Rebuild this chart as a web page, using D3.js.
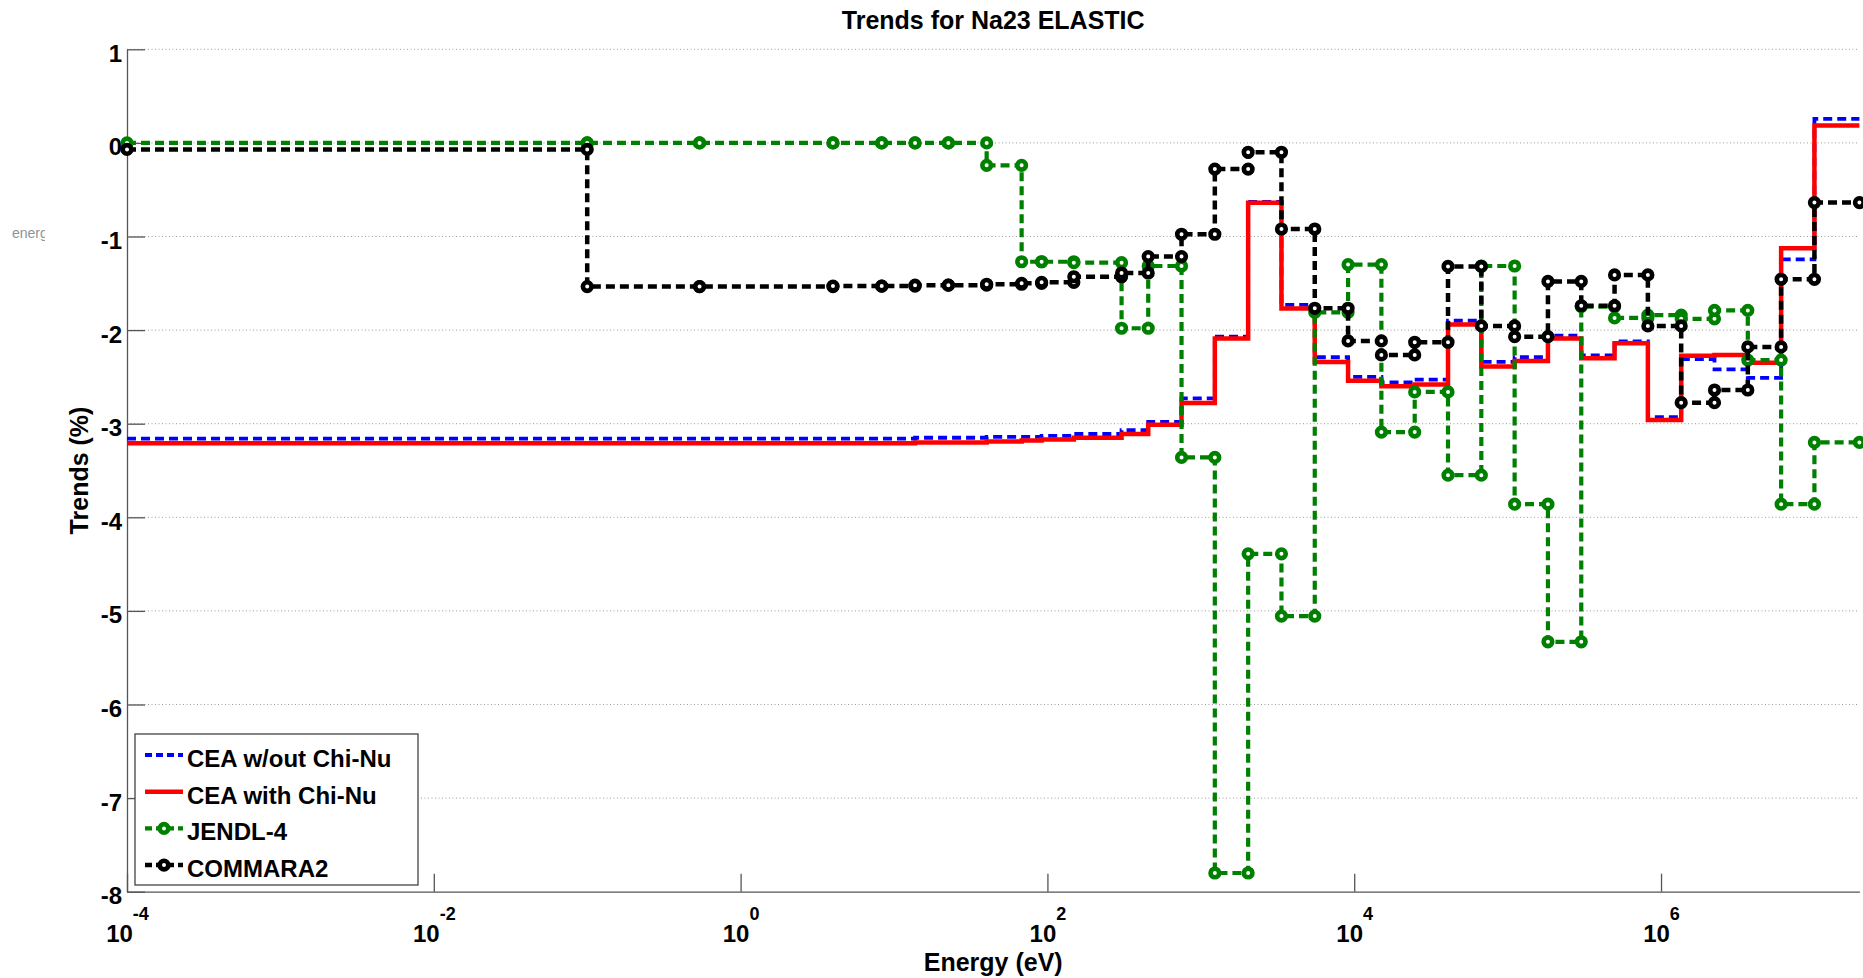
<!DOCTYPE html>
<html>
<head>
<meta charset="utf-8">
<style>
  body { margin: 0; background: #fff; }
  svg { display: block; font-family: "Liberation Sans", Arial, sans-serif; }
  .axis path, .axis line { stroke: #555; stroke-width: 1.3; }
  .axis text { font-size: 24px; font-weight: bold; fill: #000; }
  .grid line { stroke: #9a9a9a; stroke-width: 1; stroke-dasharray: 1,2.5; }
</style>
</head>
<body>
<div id="chart"></div>
<script src="https://d3js.org/d3.v7.min.js"></script>
<script>

// ECCO 33-group boundaries (eV), ascending; first one is the axis start
const groupBounds = [1e-4, 0.1, 0.54, 4.0, 8.3153, 13.710, 22.603, 40.169, 67.904,
  91.661, 148.63, 304.32, 454.00, 748.52, 1234.1, 2034.7, 3354.6, 5530.8, 9118.8,
  15034, 24788, 40868, 67379, 111090, 183160, 301970, 497870, 820850, 1353400,
  2231300, 3678800, 6065300, 1.0e7, 1.964e7];

// trend values (%) per group, lowest energy group first
const ceaNoChiNu = [-3.16, -3.16, -3.16, -3.16, -3.16, -3.15, -3.15, -3.14, -3.14,
  -3.13, -3.11, -3.07, -2.98, -2.73, -2.07, -0.63, -1.73, -2.29, -2.50, -2.56,
  -2.53, -1.90, -2.34, -2.29, -2.06, -2.27, -2.12, -2.93, -2.31, -2.42, -2.51,
  -1.245, 0.256];
const ceaChiNu = [-3.21, -3.21, -3.21, -3.21, -3.21, -3.20, -3.20, -3.19, -3.18,
  -3.17, -3.15, -3.11, -3.01, -2.78, -2.09, -0.64, -1.77, -2.34, -2.54, -2.60,
  -2.58, -1.94, -2.39, -2.33, -2.09, -2.30, -2.14, -2.96, -2.275, -2.265, -2.35,
  -1.125, 0.185];
const jendl4 = [0, 0, 0, 0, 0, 0, 0, -0.24, -1.27, -1.27, -1.28, -1.98, -1.315,
  -3.36, -7.80, -4.39, -5.055, -1.81, -1.30, -3.09, -2.66, -3.55, -1.315, -3.86,
  -5.33, -1.75, -1.87, -1.84, -1.88, -1.79, -2.32, -3.86, -3.20];
const commara2 = [-0.07, -1.535, -1.535, -1.53, -1.53, -1.52, -1.52, -1.51, -1.50,
  -1.49, -1.43, -1.39, -1.215, -0.976, -0.28, -0.10, -0.92, -1.767, -2.116,
  -2.265, -2.13, -1.32, -1.955, -2.07, -1.48, -1.74, -1.41, -1.955, -2.775,
  -2.64, -2.18, -1.457, -0.638];

const seriesNames = ["CEA w/out Chi-Nu", "CEA with Chi-Nu", "JENDL-4", "COMMARA2"];
const xTickExps = [-4, -2, 0, 2, 4, 6];
const yTicks = [1, 0, -1, -2, -3, -4, -5, -6, -7, -8];

const W = 1863, H = 978;
const plotLeft = 127, plotRight = 1859.4, plotTop = 49.3, plotBottom = 891.7;

const svg = d3.select("#chart").append("svg")
  .attr("width", W).attr("height", H);

const x = d3.scaleLog()
  .domain([1e-4, 1.964e7])
  .range([plotLeft, plotRight]);

const y = d3.scaleLinear()
  .domain([-8, 1])
  .range([plotBottom, plotTop]);

// dotted horizontal grid
svg.append("g").attr("class", "grid")
  .selectAll("line")
  .data(yTicks.filter(d => d > -8))
  .enter().append("line")
    .attr("x1", plotLeft).attr("x2", plotRight)
    .attr("y1", d => y(d)).attr("y2", d => y(d));

// y axis, ticks pointing inward (plain hyphen minus like the original)
const yAxis = svg.append("g").attr("class", "axis")
  .attr("transform", "translate(" + plotLeft + ",0)")
  .call(d3.axisLeft(y).tickValues(yTicks).tickSize(-18).tickSizeOuter(0)
    .tickPadding(5).tickFormat(d => String(d)));
yAxis.selectAll("text").attr("dy", "12px");

// x axis with 10^n labels
const xAxis = svg.append("g").attr("class", "axis")
  .attr("transform", "translate(0," + plotBottom + ")")
  .call(d3.axisBottom(x).tickValues(xTickExps.map(e => Math.pow(10, e)))
    .tickSize(-18).tickSizeOuter(0).tickFormat(""));
xAxis.selectAll(".tick").each(function(d) {
  const t = d3.select(this).append("text")
    .attr("y", 50)
    .attr("text-anchor", "middle");
  t.append("tspan").text("10");
  t.append("tspan")
    .attr("dy", -22)
    .style("font-size", "18px")
    .text(String(Math.round(Math.log10(d))));
});

// step lines
function stepPoints(vals) {
  const pts = [];
  vals.forEach((v, i) => {
    pts.push([groupBounds[i], v]);
    pts.push([groupBounds[i + 1], v]);
  });
  return pts;
}

const line = d3.line().x(d => x(d[0])).y(d => y(d[1]));

const series = [
  { name: seriesNames[0], vals: ceaNoChiNu, color: "#0000ff", width: 3.8, dash: "9,5", marker: false },
  { name: seriesNames[1], vals: ceaChiNu, color: "#ff0000", width: 4.5, dash: null, marker: false },
  { name: seriesNames[2], vals: jendl4, color: "#008000", width: 4.2, dash: "9,5", marker: true },
  { name: seriesNames[3], vals: commara2, color: "#000000", width: 4.5, dash: "9,5", marker: true }
];

series.forEach(s => {
  const pts = stepPoints(s.vals);
  svg.append("path")
    .datum(pts)
    .attr("d", line)
    .attr("fill", "none")
    .attr("stroke", s.color)
    .attr("stroke-width", s.width)
    .attr("stroke-dasharray", s.dash);
  if (s.marker) {
    svg.append("g").selectAll("circle")
      .data(pts)
      .enter().append("circle")
        .attr("cx", d => x(d[0]))
        .attr("cy", d => y(d[1]))
        .attr("r", 4.3)
        .attr("fill", "#fff")
        .attr("stroke", s.color)
        .attr("stroke-width", 4.6);
  }
});

// title and axis labels
svg.append("text")
  .attr("x", (plotLeft + plotRight) / 2).attr("y", 29)
  .attr("text-anchor", "middle")
  .style("font-size", "25px").style("font-weight", "bold")
  .text("Trends for Na23 ELASTIC");

svg.append("text")
  .attr("x", (plotLeft + plotRight) / 2).attr("y", 971)
  .attr("text-anchor", "middle")
  .style("font-size", "25px").style("font-weight", "bold")
  .text("Energy (eV)");

svg.append("text")
  .attr("transform", "translate(88," + ((plotTop + plotBottom) / 2) + ") rotate(-90)")
  .attr("text-anchor", "middle")
  .style("font-size", "25px").style("font-weight", "bold")
  .text("Trends (%)");

// stray clipped label at the far left
svg.append("clipPath").attr("id", "clipEnergy")
  .append("rect").attr("x", 0).attr("y", 200).attr("width", 45).attr("height", 60);
svg.append("text")
  .attr("x", 12).attr("y", 238)
  .attr("clip-path", "url(#clipEnergy)")
  .style("font-size", "14px")
  .style("fill", "#8c939b")
  .text("energy");

// legend
const legend = svg.append("g");
legend.append("rect")
  .attr("x", 135).attr("y", 734)
  .attr("width", 283).attr("height", 151)
  .attr("fill", "#fff")
  .attr("stroke", "#444")
  .attr("stroke-width", 1.3);

series.forEach((s, i) => {
  const ry = 755 + i * 36.7;
  legend.append("line")
    .attr("x1", 145).attr("x2", 183)
    .attr("y1", ry).attr("y2", ry)
    .attr("stroke", s.color)
    .attr("stroke-width", s.width)
    .attr("stroke-dasharray", s.dash ? "7,4" : null);
  if (s.marker) {
    legend.append("circle")
      .attr("cx", 164).attr("cy", ry).attr("r", 4.3)
      .attr("fill", "#fff")
      .attr("stroke", s.color)
      .attr("stroke-width", 4.6);
  }
  legend.append("text")
    .attr("x", 187).attr("y", ry + 12)
    .style("font-size", "24px").style("font-weight", "bold")
    .text(s.name);
});

</script>
</body>
</html>
